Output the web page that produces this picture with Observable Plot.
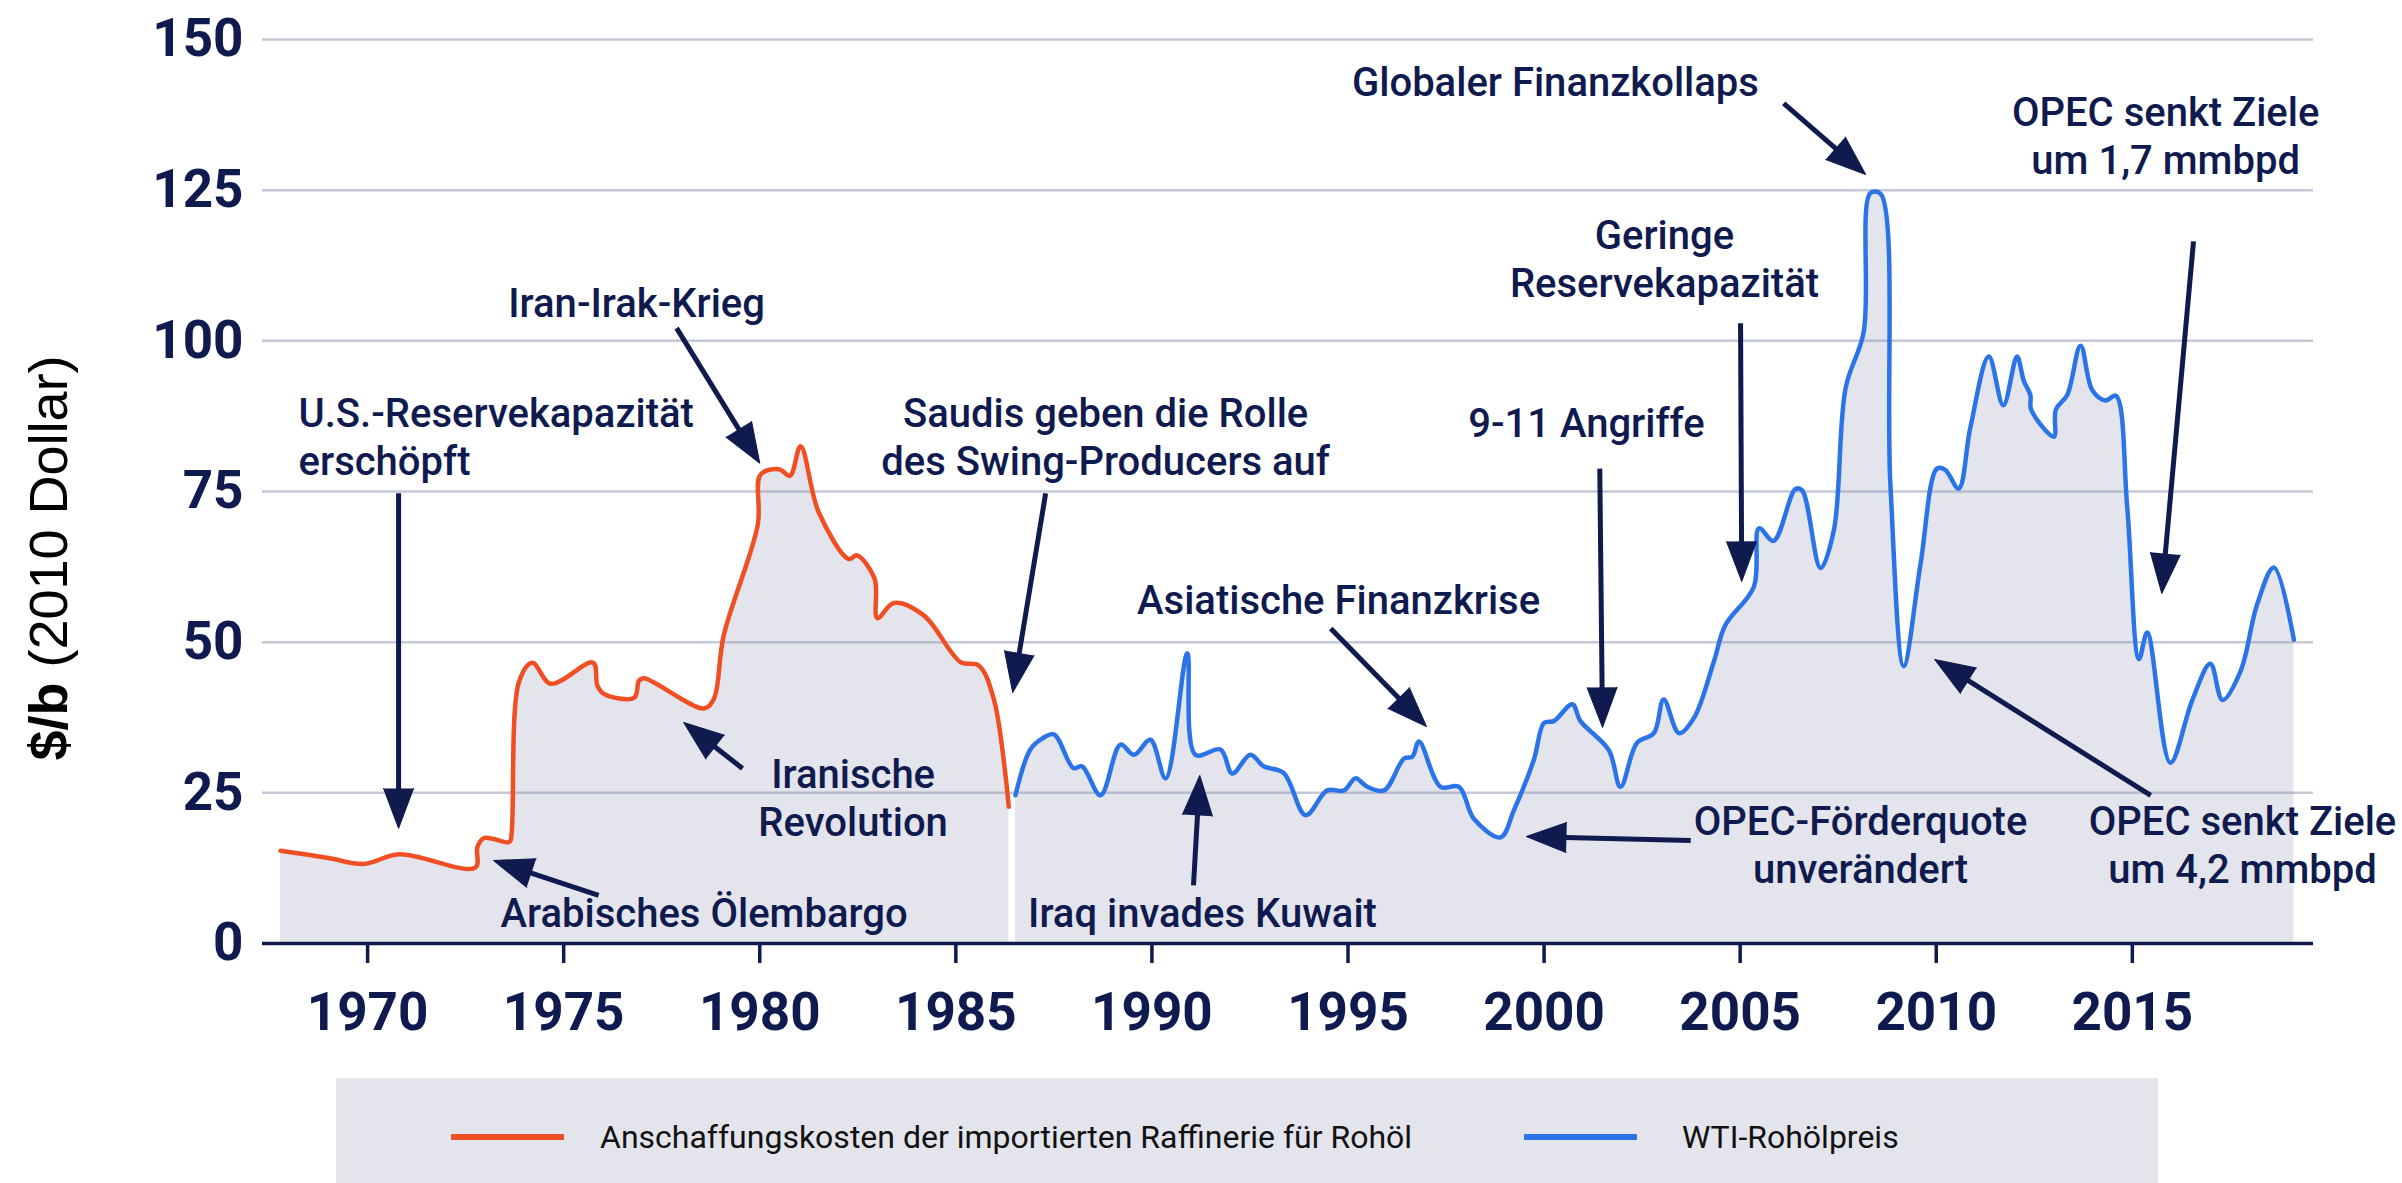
<!DOCTYPE html>
<html>
<head>
<meta charset="utf-8">
<script src="https://cdn.jsdelivr.net/npm/d3@7"></script>
<script src="https://cdn.jsdelivr.net/npm/@observablehq/plot@0.6"></script>
<style>
  html, body { margin: 0; padding: 0; background: #ffffff; }
  body { width: 2402px; height: 1183px; overflow: hidden; position: relative; font-family: Roboto, sans-serif; }
  #chart { position: absolute; left: 0; top: 0; }
  #legend { position: absolute; left: 336px; top: 1078px; width: 1822px; height: 118px; background: #e3e4ec; }
  .sw { position: absolute; top: 56px; width: 113px; height: 6px; border-radius: 1px; }
  .lt { position: absolute; top: 39px; line-height: 40px; font-family: Roboto, sans-serif; font-size: 32px; color: #111111; white-space: nowrap; }
</style>
</head>
<body>
<div id="chart"></div>
<div id="legend"></div>
<script>
// ---------- data ----------
const seriesNames = ["Anschaffungskosten der importierten Raffinerie für Rohöl", "WTI-Rohölpreis"];

const refinerYears = [1967.78, 1969.0, 1969.9, 1970.8, 1972.75, 1972.8, 1972.97, 1973.6, 1973.65, 1973.86, 1974.2, 1974.67, 1975.75, 1975.86, 1976.03, 1976.8, 1976.92, 1977.05, 1978.58, 1978.83, 1979.08, 1979.95, 1980.02, 1980.49, 1980.77, 1981.04, 1981.5, 1982.27, 1982.48, 1982.93, 1983.0, 1983.42, 1984.19, 1985.12, 1985.59, 1985.97, 1986.35];
const refinerValues = [15.4, 14.2, 13.2, 14.8, 12.6, 16.0, 17.5, 16.8, 17.2, 43.4, 46.6, 43.1, 46.6, 42.8, 41.4, 40.8, 43.6, 44.0, 39.0, 40.6, 51.1, 69.5, 77.8, 78.7, 77.6, 82.5, 71.6, 63.8, 64.4, 60.5, 54.0, 56.5, 54.4, 46.7, 46.1, 40.5, 22.7];

const wtiYears = [1986.52, 1986.9, 1987.2, 1987.5, 1988.0, 1988.22, 1988.69, 1989.2, 1989.54, 1989.96, 1990.35, 1990.9, 1991.11, 1991.75, 1992.05, 1992.51, 1992.85, 1993.36, 1993.92, 1994.47, 1994.9, 1995.19, 1995.49, 1995.92, 1996.43, 1996.64, 1996.81, 1997.36, 1997.83, 1998.21, 1998.89, 1999.23, 1999.74, 2000.0, 2000.25, 2000.72, 2000.93, 2001.65, 2001.95, 2002.37, 2002.8, 2003.05, 2003.44, 2003.82, 2004.33, 2004.62, 2005.35, 2005.48, 2005.85, 2006.41, 2006.58, 2007.05, 2007.39, 2007.69, 2008.15, 2008.32, 2008.58, 2008.83, 2009.17, 2009.6, 2010.02, 2010.23, 2010.57, 2010.87, 2011.34, 2011.71, 2012.06, 2012.23, 2012.4, 2012.42, 2013.0, 2013.05, 2013.34, 2013.68, 2013.98, 2014.32, 2014.58, 2014.87, 2015.17, 2015.38, 2015.97, 2016.53, 2016.99, 2017.3, 2017.76, 2018.18, 2018.61, 2019.12];
const wtiValues = [24.6, 32.2, 34.0, 34.7, 29.1, 29.4, 24.6, 33.0, 31.3, 33.8, 27.4, 48.1, 31.3, 32.2, 28.2, 31.3, 29.4, 28.3, 21.3, 25.4, 25.4, 27.4, 26.0, 25.4, 30.7, 31.0, 33.5, 26.0, 26.0, 20.7, 17.6, 22.1, 30.5, 36.6, 36.9, 39.7, 36.9, 32.1, 26.0, 33.3, 34.9, 40.5, 34.9, 37.4, 46.8, 52.8, 59.2, 68.9, 66.8, 75.4, 75.2, 62.3, 68.6, 92.2, 101.5, 124.5, 124.4, 76.3, 46.0, 63.0, 78.8, 78.6, 75.5, 85.6, 97.4, 89.3, 97.4, 93.4, 91.0, 88.6, 84.1, 88.6, 91.0, 99.2, 91.8, 90.1, 90.9, 72.4, 47.2, 51.6, 30.0, 40.4, 46.4, 40.4, 45.2, 56.2, 62.4, 50.4];

const xTicks = [1970, 1975, 1980, 1985, 1990, 1995, 2000, 2005, 2010, 2015];
const yTicks = [0, 25, 50, 75, 100, 125, 150];

// annotation texts, anchored in data space (year, $/b)
const annotations = [
  {text: "Iran-Irak-Krieg", x: 1976.86, y: 103.9, align: "middle"},
  {text: "U.S.-Reservekapazität\nerschöpft", x: 1968.24, y: 77.7, align: "start"},
  {text: "Arabisches Ölembargo", x: 1978.58, y: 2.66, align: "middle"},
  {text: "Iranische\nRevolution", x: 1982.38, y: 17.76, align: "middle"},
  {text: "Saudis geben die Rolle\ndes Swing-Producers auf", x: 1988.82, y: 77.68, align: "middle"},
  {text: "Asiatische Finanzkrise", x: 1994.76, y: 54.6, align: "middle"},
  {text: "Iraq invades Kuwait", x: 1991.29, y: 2.82, align: "middle"},
  {text: "9-11 Angriffe", x: 2001.08, y: 84.0, align: "middle"},
  {text: "Geringe\nReservekapazität", x: 2003.07, y: 107.2, align: "middle"},
  {text: "Globaler Finanzkollaps", x: 2000.29, y: 140.6, align: "middle"},
  {text: "OPEC senkt Ziele\num 1,7 mmbpd", x: 2015.85, y: 127.6, align: "middle"},
  {text: "OPEC-Förderquote\nunverändert", x: 2008.07, y: 9.96, align: "middle"},
  {text: "OPEC senkt Ziele\num 4,2 mmbpd", x: 2017.81, y: 9.96, align: "middle"}
];

// annotation arrows (tail -> tip), data space
const arrows = [
  {x1: 1977.88, y1: 102.1, x2: 1980.0, y2: 79.7},
  {x1: 1970.79, y1: 74.7, x2: 1970.79, y2: 19.1},
  {x1: 1975.89, y1: 7.97, x2: 1973.21, y2: 13.78},
  {x1: 1979.56, y1: 29.05, x2: 1978.06, y2: 36.68},
  {x1: 1987.29, y1: 74.69, x2: 1986.45, y2: 41.66},
  {x1: 1994.56, y1: 52.28, x2: 1997.0, y2: 36.0},
  {x1: 1991.06, y1: 9.63, x2: 1991.22, y2: 27.88},
  {x1: 2001.42, y1: 78.8, x2: 2001.49, y2: 35.85},
  {x1: 2005.01, y1: 102.9, x2: 2005.04, y2: 60.08},
  {x1: 2006.11, y1: 139.4, x2: 2008.2, y2: 127.6},
  {x1: 2016.56, y1: 116.5, x2: 2015.75, y2: 58.09},
  {x1: 2003.74, y1: 17.1, x2: 1999.55, y2: 17.76},
  {x1: 2015.47, y1: 24.56, x2: 2009.96, y2: 47.14}
];

// ---------- build ----------
const navy = "#0f1a4f";
const redColor = "#f04e23";
const blueColor = "#2b74e8";
const areaColor = "#e3e4ec";

const refiner = refinerYears.map((y, i) => ({year: y, value: refinerValues[i]}));
const wti = wtiYears.map((y, i) => ({year: y, value: wtiValues[i]}));

const W = 2402, H = 1060;
const mL = 262, mR = 89, mT = 39, mB = 117;
const xDomain = [1967.32, 2019.62];
const yDomain = [0, 150];

const sx = Plot.scale({x: {domain: xDomain, range: [mL, W - mR]}});
const sy = Plot.scale({y: {domain: yDomain, range: [H - mB, mT]}});
const arrowData = arrows.map(a => {
  const dx = sx.apply(a.x2) - sx.apply(a.x1);
  const dy = sy.apply(a.y2) - sy.apply(a.y1);
  return {...a, rot: Math.atan2(dx, -dy) * 180 / Math.PI};
});

const curve = "catmull-rom";

const plot = Plot.plot({
  width: W, height: H,
  marginLeft: mL, marginRight: mR, marginTop: mT, marginBottom: mB,
  x: {domain: xDomain},
  y: {domain: yDomain},
  style: {fontFamily: "Roboto, sans-serif", color: navy, background: "transparent", overflow: "visible"},
  marks: [
    Plot.areaY(refiner, {x: "year", y: "value", fill: areaColor, curve}),
    Plot.areaY(wti, {x: "year", y: "value", fill: areaColor, curve}),
    Plot.ruleY(yTicks.filter(d => d > 0), {stroke: "#8c91ad", strokeOpacity: 0.5, strokeWidth: 2.5}),
    Plot.ruleY([0], {stroke: navy, strokeWidth: 3.5}),
    Plot.axisX({ticks: xTicks, tickFormat: d => String(d), tickSize: 20, tickPadding: 29,
                fontSize: 53, fontWeight: 700, strokeWidth: 3.5, stroke: navy, fill: navy, label: null}),
    Plot.axisY({ticks: yTicks, tickSize: 0, tickPadding: 19, fontSize: 53, fontWeight: 700, fill: navy, label: null}),
    Plot.lineY(refiner, {x: "year", y: "value", stroke: redColor, strokeWidth: 4.5, curve}),
    Plot.lineY(wti, {x: "year", y: "value", stroke: blueColor, strokeWidth: 4.5, curve}),
    Plot.arrow(arrowData, {x1: "x1", y1: "y1", x2: "x2", y2: "y2", stroke: navy, strokeWidth: 5,
                           headLength: 0, insetEnd: 28, strokeLinecap: "butt"}),
    Plot.vector(arrowData, {x: "x2", y: "y2", rotate: "rot", length: 40, r: 15, shape: "spike", anchor: "end",
                            fill: navy, stroke: navy, strokeWidth: 1, fillOpacity: 1}),
    Plot.text(annotations.filter(d => d.align === "middle"), {x: "x", y: "y", text: "text", textAnchor: "middle",
              lineAnchor: "bottom", lineHeight: 1.2, fontSize: 40, fontWeight: 500, fill: navy}),
    Plot.text(annotations.filter(d => d.align === "start"), {x: "x", y: "y", text: "text", textAnchor: "start",
              lineAnchor: "bottom", lineHeight: 1.2, fontSize: 40, fontWeight: 500, fill: navy})
  ]
});

// y-axis title
const svg = d3.select(plot);
const title = svg.append("text")
  .attr("transform", `translate(67, 558) rotate(-90)`)
  .attr("text-anchor", "middle")
  .attr("fill", "#000")
  .style("font-family", "'Liberation Sans', Arial, sans-serif")
  .style("font-size", "54px");
title.append("tspan").attr("font-weight", "bold").text("$/b");
title.append("tspan").attr("font-weight", "normal").text(" (2010 Dollar)");

document.getElementById("chart").appendChild(plot);

// legend
const legend = d3.select("#legend");
const colors = [redColor, blueColor];
const swatchLeft = [115, 1188];
const textLeft = [264, 1346];
seriesNames.forEach((name, i) => {
  legend.append("div").attr("class", "sw").style("background", colors[i]).style("left", swatchLeft[i] + "px");
  legend.append("div").attr("class", "lt").text(name).style("left", textLeft[i] + "px");
});
</script>
</body>
</html>
